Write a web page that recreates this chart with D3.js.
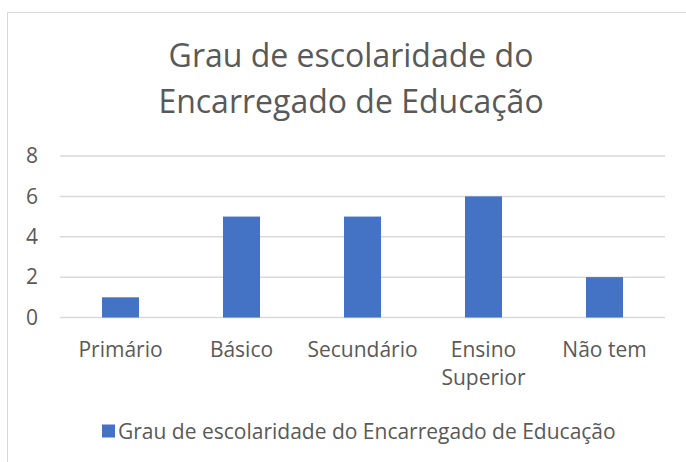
<!DOCTYPE html>
<html>
<head>
<meta charset="utf-8">
<script src="https://cdn.jsdelivr.net/npm/d3@7"></script>
<style>
  body { margin: 0; background: #fff; }
  svg text { font-family: "Open Sans", sans-serif; fill: #595959; }
</style>
</head>
<body>
<svg id="chart" width="686" height="462"></svg>
<script>
// dados
var categories = ['Primário', 'Básico', 'Secundário', 'Ensino Superior', 'Não tem'];
var values = [1, 5, 5, 6, 2];
var yTicks = [0, 2, 4, 6, 8];
var titleLines = ['Grau de escolaridade do', 'Encarregado de Educação'];
var seriesName = 'Grau de escolaridade do Encarregado de Educação';

var svg = d3.select('#chart');
var plot = {left: 60, right: 665, top: 156, bottom: 317.5};

// moldura do gráfico
svg.append('rect')
    .attr('x', 7.5).attr('y', 12.5)
    .attr('width', 700).attr('height', 470)
    .attr('fill', '#fff')
    .attr('stroke', '#d9d9d9');

// título
svg.append('text')
    .attr('text-anchor', 'middle')
    .attr('font-size', 32)
    .selectAll('tspan')
    .data(titleLines).enter()
    .append('tspan')
    .attr('x', 351)
    .attr('y', function (d, i) { return 67 + i * 46; })
    .text(function (d) { return d; });

var x = d3.scaleBand()
    .domain(categories)
    .range([plot.left, plot.right])
    .paddingInner(0.694)
    .paddingOuter(0.347);
var y = d3.scaleLinear()
    .domain([0, 8])
    .range([plot.bottom, plot.top]);

// grelha
svg.append('g')
    .selectAll('line')
    .data(yTicks).enter()
    .append('line')
    .attr('x1', plot.left).attr('x2', plot.right)
    .attr('y1', function (d) { return y(d); })
    .attr('y2', function (d) { return y(d); })
    .attr('stroke', '#d9d9d9')
    .attr('stroke-width', 1.5);

// eixo y
var yAxis = svg.append('g')
    .attr('transform', 'translate(' + 38 + ',0)')
    .call(d3.axisLeft(y).tickValues(yTicks).tickSize(0).tickPadding(0));
yAxis.select('.domain').remove();
yAxis.selectAll('text')
    .attr('font-size', 21)
    .attr('font-family', '"Open Sans", sans-serif')
    .attr('fill', '#595959');

// barras
svg.append('g')
    .selectAll('rect')
    .data(values).enter()
    .append('rect')
    .attr('x', function (d, i) { return x(categories[i]); })
    .attr('y', function (d) { return y(d); })
    .attr('width', x.bandwidth())
    .attr('height', function (d) { return y(0) - y(d); })
    .attr('fill', '#4472c4');

// rótulos do eixo x
var xAxis = svg.append('g')
    .attr('transform', 'translate(0,' + plot.bottom + ')')
    .call(d3.axisBottom(x).tickSize(0).tickPadding(0));
xAxis.select('.domain').remove();
xAxis.selectAll('text').remove();
xAxis.selectAll('.tick').each(function (d) {
    var words = d === 'Ensino Superior' ? ['Ensino', 'Superior'] : [d];
    var t = d3.select(this).append('text')
        .attr('text-anchor', 'middle')
        .attr('font-size', 21)
        .attr('fill', '#595959');
    t.selectAll('tspan')
        .data(words).enter()
        .append('tspan')
        .attr('x', 0)
        .attr('y', function (w, i) { return 39 + i * 28; })
        .text(function (w) { return w; });
});

// legenda
var legend = svg.append('g');
legend.append('rect')
    .attr('x', 102).attr('y', 424.5)
    .attr('width', 13).attr('height', 13)
    .attr('fill', '#4472c4');
legend.append('text')
    .attr('x', 118).attr('y', 439)
    .attr('font-size', 21)
    .text(seriesName);
</script>
</body>
</html>
